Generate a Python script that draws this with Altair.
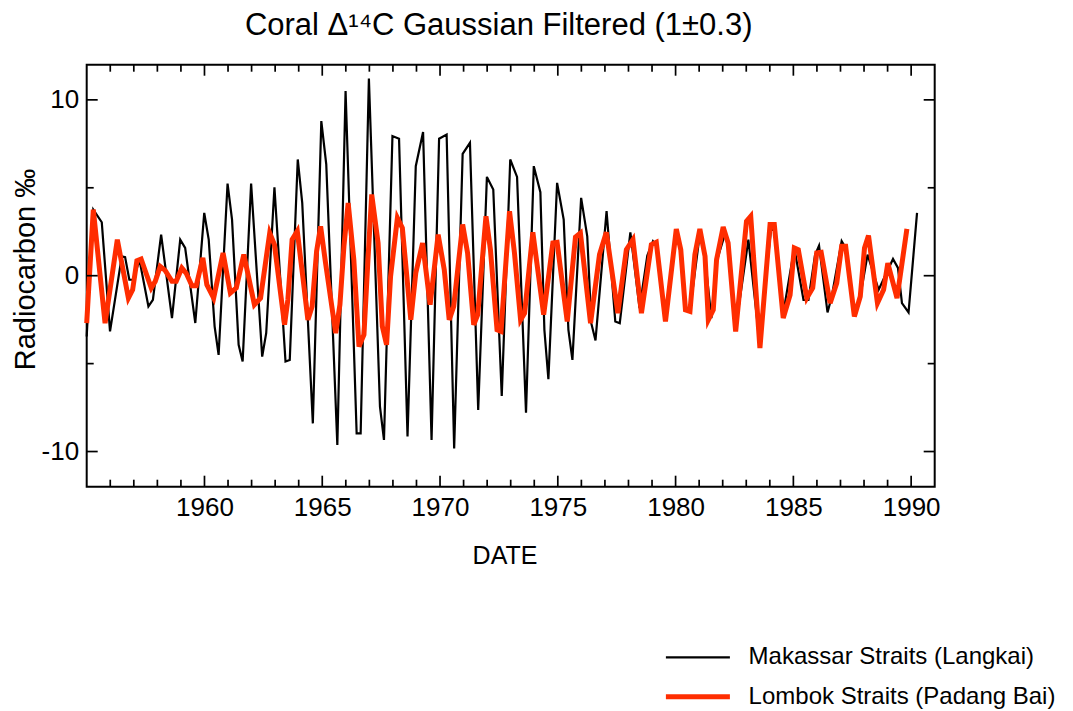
import altair as alt
import pandas as pd

# ---- data ----
mak_year = [1955.00, 1955.28, 1955.64, 1955.99, 1956.49, 1956.63, 1956.81, 1956.98, 1957.24, 1957.62,
            1957.81, 1958.16, 1958.62, 1958.97, 1959.18, 1959.61, 1959.99, 1960.18, 1960.43, 1960.60,
            1960.98, 1961.17, 1961.45, 1961.62, 1961.98, 1962.45, 1962.62, 1962.97, 1963.44, 1963.62,
            1963.96, 1964.15, 1964.60, 1964.96, 1965.17, 1965.64, 1965.99, 1966.46, 1966.63, 1966.98,
            1967.45, 1967.62, 1967.98, 1968.26, 1968.62, 1968.97, 1969.28, 1969.64, 1969.96, 1970.28,
            1970.60, 1970.96, 1971.27, 1971.62, 1971.99, 1972.26, 1972.62, 1972.98, 1973.27, 1973.65,
            1973.98, 1974.26, 1974.43, 1974.60, 1974.97, 1975.25, 1975.45, 1975.62, 1975.99, 1976.25,
            1976.42, 1976.60, 1977.07, 1977.44, 1977.63, 1978.08, 1978.47, 1978.80, 1979.04, 1979.18,
            1979.57, 1980.03, 1980.22, 1980.39, 1980.61, 1981.03, 1981.25, 1981.52, 1981.74, 1982.08,
            1982.23, 1982.55, 1983.09, 1983.55, 1984.05, 1984.19, 1984.55, 1985.04, 1985.43, 1985.64,
            1985.92, 1986.09, 1986.45, 1986.63, 1987.05, 1987.26, 1987.59, 1987.84, 1988.15, 1988.62,
            1989.23, 1989.44, 1989.61, 1989.89, 1990.25]
mak_val = [-3.46, 3.76, 3.04, -3.17, 1.10, 1.06, -0.23, -0.23, 0.91, -1.75,
           -1.37, 2.34, -2.41, 2.05, 1.58, -2.69, 3.57, 2.05, -2.88, -4.50,
           5.24, 3.19, -3.93, -4.88, 5.24, -4.60, -3.27, 5.03, -4.88, -4.79,
           6.61, 4.14, -8.40, 8.79, 6.33, -9.63, 10.50, -8.97, -8.97, 11.21,
           -7.45, -9.34, 7.94, 7.79, -9.15, 6.23, 8.17, -9.34, 7.79, 8.03,
           -9.82, 6.93, 7.56, -7.64, 5.62, 4.90, -6.84, 6.61, 5.62, -7.79,
           6.23, 4.75, -3.08, -5.89, 5.28, 3.19, -3.08, -4.79, 4.43, 2.24,
           -2.70, -3.68, 3.67, -2.60, -2.70, 2.47, -1.84, 1.14, 1.96, 1.70,
           -2.40, 2.40, 1.30, -1.94, -2.00, 2.40, 1.00, -2.41, 0.80, 2.30,
           1.96, -3.00, 2.05, -3.60, 2.60, 2.60, -2.30, 1.58, -1.37, -1.37,
           1.18, 1.71, -2.09, -1.18, 1.96, 1.48, -2.13, -1.18, 1.20, -0.80,
           0.95, 0.44, -1.56, -2.09, 3.57]

lom_year = [1955.00, 1955.28, 1955.78, 1956.30, 1956.77, 1956.95, 1957.13, 1957.31, 1957.74, 1957.91,
            1958.12, 1958.33, 1958.62, 1958.80, 1959.04, 1959.22, 1959.47, 1959.65, 1959.93, 1960.10,
            1960.39, 1960.79, 1961.10, 1961.35, 1961.67, 1962.12, 1962.38, 1962.77, 1962.97, 1963.40,
            1963.54, 1963.72, 1963.94, 1964.19, 1964.39, 1964.57, 1964.76, 1964.93, 1965.14, 1965.57,
            1965.75, 1965.92, 1966.10, 1966.34, 1966.56, 1966.77, 1966.94, 1967.10, 1967.37, 1967.55,
            1967.73, 1967.90, 1968.19, 1968.40, 1968.76, 1968.97, 1969.26, 1969.58, 1969.92, 1970.18,
            1970.39, 1970.58, 1970.96, 1971.17, 1971.43, 1971.60, 1971.95, 1972.14, 1972.42, 1972.59,
            1972.95, 1973.16, 1973.42, 1973.59, 1973.94, 1974.40, 1974.79, 1974.97, 1975.40, 1975.75,
            1975.96, 1976.39, 1976.77, 1977.06, 1977.55, 1977.91, 1978.19, 1978.55, 1978.97, 1979.18,
            1979.57, 1980.03, 1980.22, 1980.42, 1980.61, 1980.82, 1981.03, 1981.25, 1981.39, 1981.60,
            1981.74, 1982.02, 1982.23, 1982.55, 1983.01, 1983.19, 1983.58, 1984.01, 1984.19, 1984.57,
            1984.86, 1985.04, 1985.21, 1985.57, 1985.82, 1985.99, 1986.18, 1986.56, 1986.84, 1987.05,
            1987.22, 1987.59, 1987.84, 1988.02, 1988.19, 1988.57, 1988.83, 1989.01, 1989.40, 1989.82]
lom_val = [-2.70, 3.76, -2.70, 2.05, -1.27, -0.80, 0.85, 0.95, -0.70, -0.32,
           0.53, 0.30, -0.32, -0.32, 0.44, 0.15, -0.57, -0.57, 1.01, -0.51,
           -1.27, 1.29, -0.99, -0.70, 1.20, -1.65, -1.27, 2.43, 1.77, -2.79,
           -1.37, 2.05, 2.53, -0.23, -2.51, -1.75, 1.39, 2.81, 0.72, -3.27,
           -1.65, 1.67, 4.14, 0.91, -4.03, -3.36, 0.91, 4.62, 1.86, -2.88,
           -3.93, -0.04, 3.29, 2.72, -2.51, 0.15, 1.86, -1.65, 2.34, 0.34,
           -2.51, -1.75, 2.91, 1.29, -2.79, -2.22, 3.38, 1.48, -3.08, -3.17,
           3.67, 1.29, -2.51, -2.13, 2.47, -2.22, 1.86, 1.90, -2.60, 2.20,
           2.43, -2.70, 1.20, 2.47, -2.13, 1.48, 2.05, -2.13, 1.77, 1.90,
           -2.60, 2.66, 1.48, -1.94, -2.03, 1.20, 2.66, 1.10, -2.51, -1.94,
           0.91, 2.77, 1.86, -3.17, 3.10, 3.38, -4.12, 2.91, 2.91, -2.41,
           -1.10, 1.58, 1.48, -1.27, -0.70, 1.29, 1.33, -1.56, -0.42, 1.67,
           1.67, -2.32, -1.18, 1.58, 2.28, -1.56, -0.80, 0.72, -1.27, 2.66]

SERIES = ["Makassar Straits (Langkai)", "Lombok Straits (Padang Bai)"]
COLORS = ["#000000", "#ff2d00"]
WIDTHS = [2.2, 5]
X_LABELS = [1960, 1965, 1970, 1975, 1980, 1985, 1990]
X_MAJOR = [1960, 1965, 1970, 1975, 1980, 1985, 1990]
X_MINOR = [y for y in range(1956, 1991) if y % 5 != 0]
Y_LABELS = [-10, 0, 10]
Y_MAJOR = [-10, 0, 10]
Y_MINOR = [-5, 5]
TITLE = "Coral \u0394\u00b9\u2074C Gaussian Filtered (1\u00b10.3)"
FONT = "Liberation Sans"

df = pd.concat([
    pd.DataFrame({"year": mak_year, "val": mak_val, "series": SERIES[0]}),
    pd.DataFrame({"year": lom_year, "val": lom_val, "series": SERIES[1]}),
], ignore_index=True)

W, H = 848, 422
MAJ, MIN, TW = 11, 7, 1.7

x_scale = alt.Scale(domain=[1955, 1991], nice=False, zero=False)
y_scale = alt.Scale(domain=[-12, 12], nice=False, zero=False)

x_axis = alt.Axis(
    values=X_LABELS, format="d", ticks=False, tickSize=0, domain=False, grid=False,
    labelFontSize=26, labelPadding=8, labelColor="black", labelFont=FONT,
    labelOverlap=False, labelFlush=False,
    title="DATE", titleFontSize=25, titleFontWeight="normal", titleColor="black",
    titleFont=FONT, titleX=417.8, titleY=76.6, titleBaseline="alphabetic",
)
y_axis = alt.Axis(
    values=Y_LABELS, labelExpr="'' + datum.value",
    ticks=False, tickSize=0, domain=False, grid=False,
    labelFontSize=26, labelPadding=8, labelColor="black", labelFont=FONT,
    labelOverlap=False, labelFlush=False,
    title="Radiocarbon \u2030", titleFontSize=29, titleFontWeight="normal", titleColor="black",
    titleFont=FONT, titleX=-52.5, titleY=204.3, titleBaseline="alphabetic", titleAngle=270,
)

legend = alt.Legend(
    orient="none", legendX=576.7, legendY=577.6, title=None,
    symbolType="stroke", symbolSize=4096, clipHeight=30, rowPadding=9.4,
    labelFontSize=24, labelOffset=16.2, labelFont=FONT, labelColor="black",
    labelLimit=500, padding=0,
)

color_enc = alt.Color("series:N", scale=alt.Scale(domain=SERIES, range=COLORS), legend=legend)
sw_enc = alt.StrokeWidth("series:N", scale=alt.Scale(domain=SERIES, range=WIDTHS), legend=legend)

base = alt.Chart(df).encode(
    x=alt.X("year:Q", scale=x_scale, axis=x_axis),
    y=alt.Y("val:Q", scale=y_scale, axis=y_axis),
    color=color_enc, strokeWidth=sw_enc,
)
black = base.transform_filter(alt.datum.series == SERIES[0]).mark_line()
red = base.transform_filter(alt.datum.series == SERIES[1]).mark_line()


def x_ticks(vals, length):
    src = alt.Chart(pd.DataFrame({"t": vals}))
    xe = alt.X("t:Q", scale=x_scale, axis=x_axis)
    top = src.mark_rule(color="black", strokeWidth=TW).encode(
        x=xe, y=alt.value(0), y2=alt.value(length))
    bottom = src.mark_rule(color="black", strokeWidth=TW).encode(
        x=xe, y=alt.value(H), y2=alt.value(H - length))
    return [top, bottom]


def y_ticks(vals, length):
    src = alt.Chart(pd.DataFrame({"t": vals}))
    ye = alt.Y("t:Q", scale=y_scale, axis=y_axis)
    left = src.mark_rule(color="black", strokeWidth=TW).encode(
        y=ye, x=alt.value(0), x2=alt.value(length))
    right = src.mark_rule(color="black", strokeWidth=TW).encode(
        y=ye, x=alt.value(W), x2=alt.value(W - length))
    return [left, right]


tick_layers = (x_ticks(X_MAJOR, MAJ) + x_ticks(X_MINOR, MIN)
               + y_ticks(Y_MAJOR, MAJ) + y_ticks(Y_MINOR, MIN))

chart = alt.layer(black, red, *tick_layers).properties(
    width=W, height=H,
    autosize=alt.AutoSizeParams(type="none"),
    padding={"left": 78.7, "top": 56.7, "right": 130.3, "bottom": 224.3},
    title=alt.Title(TITLE, fontSize=31, font=FONT, fontWeight="normal", color="black",
                    anchor="middle", frame="group", baseline="alphabetic", offset=31,
                    dx=-12, dy=33),
).configure(font=FONT).configure_view(stroke="black", strokeWidth=2)

chart.save("out.html", embed_options={"renderer": "svg", "actions": False})
